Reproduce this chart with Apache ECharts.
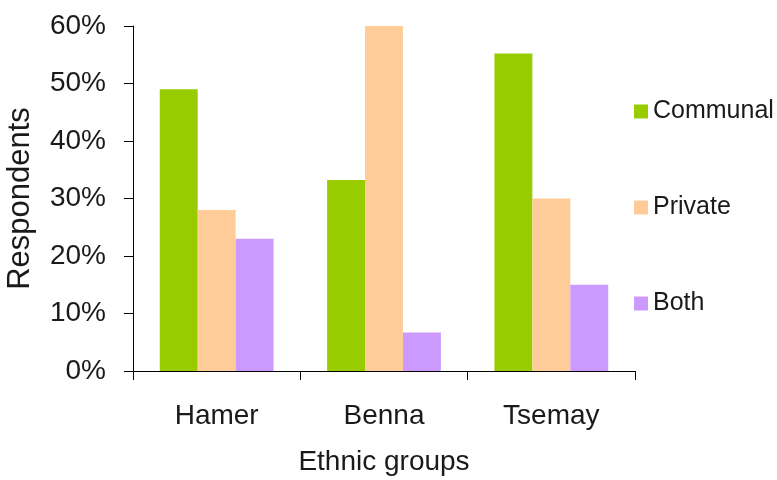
<!DOCTYPE html>
<html>
<head>
<meta charset="utf-8">
<script src="https://cdn.jsdelivr.net/npm/echarts@6/dist/echarts.min.js"></script>
<style>
  html, body { margin: 0; padding: 0; background: #fff; }
  #chart { width: 777px; height: 480px; }
</style>
</head>
<body>
<div id="chart"></div>
<script>
// Ethnic groups and the share of respondents per ownership type (%)
const categories = ['Hamer', 'Benna', 'Tsemay'];
const communal = [49, 33.2, 55.2];
const privateOwn = [28, 60, 30];
const both = [23, 6.7, 15];
const seriesNames = ['Communal', 'Private', 'Both'];
const colors = ['#99CC00', '#FFCC99', '#CC99FF'];

const font = 'Liberation Sans, Arial, sans-serif';
const ink = '#1a1a1a';
const chart = echarts.init(document.getElementById('chart'));

const values = [communal, privateOwn, both];
chart.setOption({
  animation: false,
  backgroundColor: '#fff',
  grid: { left: 133, top: 26, right: 142, bottom: 109, containLabel: false, outerBoundsMode: 'none' },
  legend: {
    orient: 'vertical',
    left: 629,
    top: 94,
    itemWidth: 14,
    itemHeight: 14,
    itemGap: 71,
    icon: 'rect',
    textStyle: { fontFamily: font, fontSize: 25, color: ink, padding: [0, 0, 0, 0] },
    data: seriesNames
  },
  xAxis: {
    type: 'category',
    data: categories,
    name: 'Ethnic groups',
    nameLocation: 'middle',
    nameGap: 77,
    nameTextStyle: { fontFamily: font, fontSize: 28, color: ink },
    axisLine: { lineStyle: { color: '#000', width: 1 } },
    axisTick: { show: true, length: 9, lineStyle: { color: '#000' } },
    axisLabel: { fontFamily: font, fontSize: 28, color: ink, margin: 31 },
    splitLine: { show: false }
  },
  yAxis: {
    type: 'value',
    min: 0,
    max: 60,
    interval: 10,
    name: 'Respondents',
    nameLocation: 'middle',
    nameGap: 97,
    nameRotate: 90,
    nameTextStyle: { fontFamily: font, fontSize: 31, color: ink },
    axisLine: { show: true, lineStyle: { color: '#000', width: 1 } },
    axisTick: { show: true, length: 9, lineStyle: { color: '#000' } },
    axisLabel: { fontFamily: font, fontSize: 28, color: ink, margin: 27, formatter: '{value}%' },
    splitLine: { show: false }
  },
  series: seriesNames.map((name, i) => ({
    name: name,
    type: 'bar',
    data: values[i],
    barGap: '0%',
    barCategoryGap: '32%',
    itemStyle: { color: colors[i] }
  }))
});
</script>
</body>
</html>
